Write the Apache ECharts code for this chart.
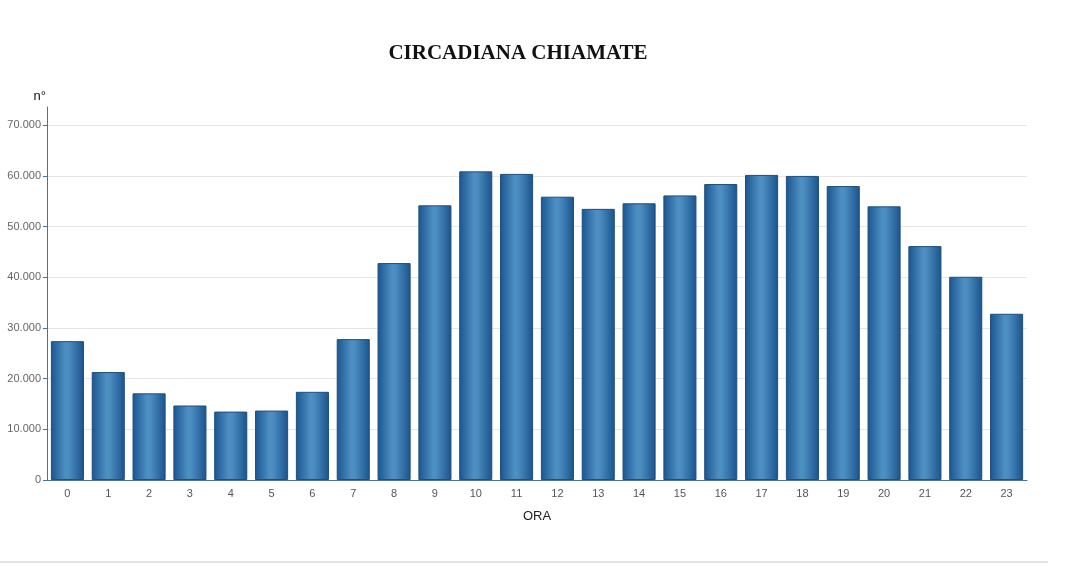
<!DOCTYPE html>
<html>
<head>
<meta charset="utf-8">
<script src="https://cdn.jsdelivr.net/npm/echarts@6/dist/echarts.min.js"></script>
<style>
  html, body { margin: 0; padding: 0; background: #fff; }
  #chart { width: 1068px; height: 585px; }
</style>
</head>
<body>
<div id="chart"></div>
<script>
// ore del giorno e numero di chiamate
var ore = ['0','1','2','3','4','5','6','7','8','9','10','11','12','13','14','15','16','17','18','19','20','21','22','23'];
var chiamate = [27400, 21300, 17100, 14700, 13500, 13700, 17400, 27800, 42800, 54200, 60900, 60400,
                55900, 53500, 54600, 56150, 58400, 60200, 60000, 58000, 54000, 46150, 40100, 32800];

var myChart = echarts.init(document.getElementById('chart'));

var option = {
  animation: false,
  title: {
    text: 'CIRCADIANA CHIAMATE',
    left: 513,
    textAlign: 'center',
    top: 38,
    textStyle: {
      fontFamily: '"Liberation Serif", serif',
      fontWeight: 'bold',
      fontSize: 21,
      color: '#111'
    }
  },
  grid: {
    left: 47,
    right: 41,
    top: 107,
    bottom: 105
  },
  xAxis: {
    type: 'category',
    data: ore,
    name: 'ORA',
    nameLocation: 'middle',
    nameGap: 30,
    nameTextStyle: {
      fontFamily: '"Liberation Sans", sans-serif',
      fontSize: 13,
      color: '#222'
    },
    axisLine: { lineStyle: { color: '#4f7294', width: 1 } },
    axisTick: { show: false },
    axisLabel: {
      color: '#555',
      fontSize: 11,
      fontFamily: '"Liberation Sans", sans-serif',
      margin: 8
    }
  },
  yAxis: {
    type: 'value',
    min: 0,
    max: 73600,
    interval: 10000,
    name: 'n°',
    nameLocation: 'end',
    nameGap: 4,
    nameTextStyle: {
      fontFamily: '"Liberation Sans", sans-serif',
      fontSize: 13,
      color: '#111',
      align: 'right',
      padding: [0, 1, 0, 0]
    },
    axisLine: { show: true, lineStyle: { color: '#4f7294', width: 1 } },
    axisTick: { show: true, length: 4, lineStyle: { color: '#4f7294' } },
    axisLabel: {
      color: '#666',
      fontSize: 11,
      fontFamily: '"Liberation Sans", sans-serif',
      margin: 6,
      showMaxLabel: false,
      formatter: function (v) {
        return v === 0 ? '0' : String(v).replace(/\B(?=(\d{3})+(?!\d))/g, '.');
      }
    },
    splitLine: {
      showMaxLine: false,
      lineStyle: { color: '#e6e6e6' }
    }
  },
  series: [
    {
      type: 'bar',
      data: chiamate,
      barCategoryGap: '19%',
      itemStyle: {
        color: new echarts.graphic.LinearGradient(0, 0, 1, 0, [
          { offset: 0, color: '#1a5590' },
          { offset: 0.45, color: '#4f90c3' },
          { offset: 0.55, color: '#4b8cc0' },
          { offset: 1, color: '#1a538d' }
        ]),
        borderColor: '#1f4f7d',
        borderWidth: 1
      }
    }
  ],
  graphic: [
    {
      type: 'line',
      shape: { x1: 0, y1: 562, x2: 1048, y2: 562 },
      style: { stroke: '#c8c8c8', lineWidth: 1 }
    }
  ]
};

myChart.setOption(option);
window.onresize = myChart.resize;
</script>
</body>
</html>
